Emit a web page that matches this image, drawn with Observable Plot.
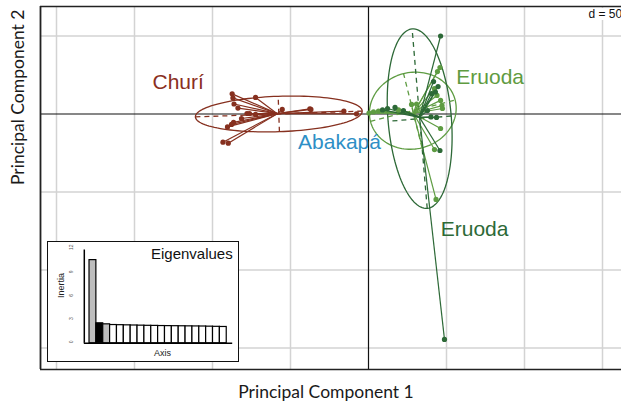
<!DOCTYPE html>
<html><head><meta charset="utf-8">
<script src="https://cdn.jsdelivr.net/npm/d3@7"></script>
<script src="https://cdn.jsdelivr.net/npm/@observablehq/plot@0.6"></script>
<style>
body{margin:0;background:#fff;}
#wrap{position:relative;width:621px;height:404px;overflow:hidden;}
#inset{position:absolute;left:47px;top:241px;}
#inset svg{border:1.5px solid #111;background:#fff;display:block;}
</style></head><body><div id="wrap"><div id="main"></div><div id="inset"></div></div>
<script>
// ---- group definitions ----
const groupIds     = ["churi", "eruodaL", "eruodaD"];
const groupColors  = ["#86301f", "#5e9c42", "#2d6937"];
const centerX      = [-58.5, 28.8, 32.7];
const centerY      = [0.2, 0.3, -2.2];
// ellipse parameters: centre, semi-axes, angle (degrees)
const ellCX  = [-57.5, 28.4, 32.8];
const ellCY  = [0.0, 2.1, -3.0];
const ellA   = [53.5, 28.0, 57.7];
const ellB   = [11.35, 24.5, 20.3];
const ellAng = [2, 14, 94.8];

// ---- individuals (principal component scores) ----
const ptGroup = [
  0,0,0,0,0,0,0,0,0,0,0,0,0,0,0,0,0,0,0,
  1,1,1,1,1,1,1,1,1,1,1,1,1,1,1,1,
  2,2,2,2,2,2,2,2,2,2,2,2,2,2
];
const ptX = [
  -87.4,-86.9,-72.4,-86.2,-83.7,-77.9,-76.3,-72.4,-81.4,-86.5,-87.8,-90.4,-93.3,-89.9,-55.3,-37.6,-36.9,-15.8,-7.7,
  45.8,44.2,42.3,43.9,46.2,47.1,47.4,30.8,46.2,42.3,43.3,0.3,3.2,6.4,19.2,27.6,
  46.2,41.7,42.9,40.4,44.6,43.6,40.1,45.8,48.7,9.0,12.2,17.0,22.4,37.8
];
const ptY = [
  12.9,10.3,10.6,6.4,3.8,0.3,0.3,-0.3,-2.9,-5.4,-6.7,-8.3,-18.1,-18.7,2.9,3.3,2.9,1.8,0.1,
  29.8,27.2,16.3,11.9,8.7,5.4,3.5,6.4,-9.3,-22.8,-54.8,0.6,1.3,1.9,2.6,6.1,
  50.0,20.8,14.1,13.1,17.6,-2.2,-1.9,-23.4,-144.5,2.6,3.5,4.2,2.2,2.2
];

// ---- labels ----
const labelText  = ["Churí", "Abakapá", "Eruoda", "Eruoda"];
const labelX     = [-122.0, -18.6, 78.0, 68.0];
const labelY     = [20.1, -18.0, 23.3, -74.2];
const labelColor = ["#8a2f22", "#2e8fc6", "#5f9b41", "#2d6937"];

// ---- axes / grid ----
const xDomain = [-210.26, 162.18];
const yDomain = [-163.8, 68.9];
const gridX = [-200, -150, -100, -50, 50, 100, 150];
const gridY = [-150, -100, -50, 50];
const dLabel = "d = 50";

// ---- eigenvalues inset ----
const eigValues = [10.7, 2.57, 2.44, 2.35, 2.33, 2.31, 2.29, 2.27, 2.25, 2.24, 2.22, 2.21, 2.2, 2.19, 2.18, 2.17, 2.16, 2.14, 2.12, 2.1];
const eigFill   = ["#bdbdbd", "#000000", "#bdbdbd"]; // remaining bars white
const eigTicks  = [0, 3, 6, 9, 12];

// ---- derived tables ----
const points = ptX.map((x, i) => ({x, y: ptY[i], g: ptGroup[i]}));
const ellPts = [];
groupIds.forEach((id, g) => {
  const th = ellAng[g] * Math.PI / 180;
  for (let t = 0; t <= 360; t += 3) {
    const u = t * Math.PI / 180;
    const ex = ellA[g] * Math.cos(u), ey = ellB[g] * Math.sin(u);
    ellPts.push({g, x: ellCX[g] + ex * Math.cos(th) - ey * Math.sin(th), y: ellCY[g] + ex * Math.sin(th) + ey * Math.cos(th)});
  }
});
const ellAxes = [];
groupIds.forEach((id, g) => {
  const th = ellAng[g] * Math.PI / 180;
  const c = Math.cos(th), s = Math.sin(th);
  ellAxes.push({g, x1: ellCX[g] - ellA[g]*c, y1: ellCY[g] - ellA[g]*s, x2: ellCX[g] + ellA[g]*c, y2: ellCY[g] + ellA[g]*s});
  ellAxes.push({g, x1: ellCX[g] + ellB[g]*s, y1: ellCY[g] - ellB[g]*c, x2: ellCX[g] - ellB[g]*s, y2: ellCY[g] + ellB[g]*c});
});
const labels = labelText.map((t, i) => ({t, x: labelX[i], y: labelY[i], c: labelColor[i]}));

const main = Plot.plot({
  width: 621, height: 404,
  marginLeft: 40, marginRight: 0, marginTop: 6, marginBottom: 35,
  x: {domain: xDomain, axis: null},
  y: {domain: yDomain, axis: null},
  color: {type: "identity"},
  style: {background: "white", overflow: "visible"},
  marks: [
    Plot.ruleX(gridX, {stroke: "#d3d3d3", strokeWidth: 1.5}),
    Plot.ruleY(gridY, {stroke: "#d3d3d3", strokeWidth: 1.5}),
    Plot.ruleX([0], {stroke: "#111", strokeWidth: 1.2}),
    Plot.ruleY([0], {stroke: "#111", strokeWidth: 1.2}),
    Plot.line(ellPts, {x: "x", y: "y", z: "g", stroke: d => groupColors[d.g], strokeWidth: 1.3}),
    Plot.link(ellAxes, {x1: "x1", y1: "y1", x2: "x2", y2: "y2", stroke: d => groupColors[d.g], strokeWidth: 1.3, strokeDasharray: "5,4"}),
    Plot.link(points, {x1: d => centerX[d.g], y1: d => centerY[d.g], x2: "x", y2: "y", stroke: d => groupColors[d.g], strokeWidth: 1.2}),
    Plot.dot(points, {x: "x", y: "y", r: 2.6, fill: d => groupColors[d.g], stroke: null}),
    Plot.text(labels, {x: "x", y: "y", text: "t", fill: "c", fontSize: 21, fontFamily: "Liberation Sans, Arial, sans-serif"}),
    Plot.text([dLabel], {text: d => d, frameAnchor: "top-right", textAnchor: "start", lineAnchor: "top", dx: -33, dy: 2.5, fontSize: 12, fontFamily: "Liberation Sans, Arial, sans-serif", fill: "#111", stroke: "white", strokeWidth: 8}),
    Plot.ruleX([xDomain[0]], {stroke: "#222", strokeWidth: 1.8}),
    Plot.ruleY([yDomain[0], yDomain[1]], {stroke: "#222", strokeWidth: 1.5}),
    Plot.text(["Principal Component 1"], {text: d => d, frameAnchor: "bottom", lineAnchor: "top", dx: -5, dy: 16, fontSize: 17.5, fontFamily: "Lato, sans-serif", fill: "#1a1a1a"}),
    Plot.text(["Principal Component 2"], {text: d => d, frameAnchor: "left", rotate: -90, lineAnchor: "top", dx: -29, dy: -3, fontSize: 17.5, fontFamily: "Lato, sans-serif", fill: "#1a1a1a"})
  ]
});
document.getElementById("main").appendChild(main);

// inset
const eig = eigValues.map((v, i) => ({i, v, f: eigFill[i] || "white"}));
const inXDomain = [-0.76, 20.87];
const inset = Plot.plot({
  width: 190, height: 119,
  marginLeft: 35.8, marginRight: 5.8, marginTop: 7.5, marginBottom: 18.2,
  x: {domain: inXDomain, axis: null},
  y: {domain: [0, 12], axis: null},
  color: {type: "identity"},
  style: {background: "white", overflow: "visible"},
  marks: [
    Plot.rectY(eig, {x1: "i", x2: d => d.i + 1, y1: 0, y2: "v", fill: "f", stroke: "#000", strokeWidth: 1.2}),
    Plot.ruleX([inXDomain[0]], {y1: 0, y2: 12, stroke: "#000", strokeWidth: 1.5}),
    Plot.ruleY([0], {x1: inXDomain[0], x2: inXDomain[1], stroke: "#000", strokeWidth: 1.5}),
    Plot.text(eigTicks, {y: d => d, text: d => String(d), frameAnchor: "left", rotate: -90, dx: -12.6, fontSize: 5, fontFamily: "Liberation Sans, Arial, sans-serif", fill: "#555"}),
    Plot.text(["Inertia"], {text: d => d, frameAnchor: "left", rotate: -90, lineAnchor: "top", dx: -27, dy: 1.3, fontSize: 9, fontFamily: "Liberation Sans, Arial, sans-serif", fill: "#222"}),
    Plot.text(["Axis"], {text: d => d, frameAnchor: "bottom", lineAnchor: "top", dx: 4, dy: 6, fontSize: 9, fontFamily: "Liberation Sans, Arial, sans-serif", fill: "#222"}),
    Plot.text(["Eigenvalues"], {text: d => d, frameAnchor: "top-right", textAnchor: "end", lineAnchor: "top", dy: -1.5, fontSize: 15, fontFamily: "Liberation Sans, Arial, sans-serif", fill: "#111"})
  ]
});
document.getElementById("inset").appendChild(inset);
</script></body></html>
